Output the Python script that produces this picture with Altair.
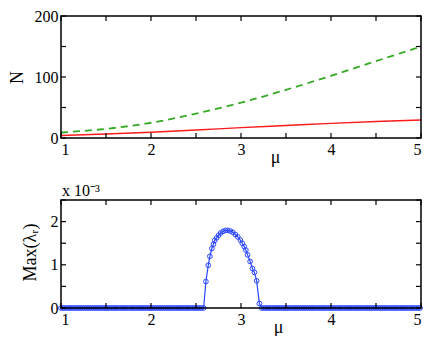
import altair as alt
import numpy as np
import pandas as pd

# ---- top panel data ----
mu_top = [1.0, 1.5, 2.0, 2.5, 3.0, 3.5, 4.0, 4.5, 5.0]
n_red = [4.0, 6.5, 9.5, 13.0, 17.0, 20.5, 24.0, 27.0, 29.5]
n_green = [9.0, 15.0, 25.0, 40.0, 58.0, 79.0, 102.0, 126.0, 150.0]

# ---- bottom panel data (units of 1e-3) ----
mu_peak = [2.585, 2.610, 2.636, 2.654, 2.676, 2.694, 2.708, 2.730, 2.752, 2.774,
           2.800, 2.828, 2.854, 2.883, 2.909, 2.938, 2.964, 2.993, 3.014, 3.036,
           3.054, 3.073, 3.101, 3.127, 3.149, 3.174, 3.204, 3.229]
lam_peak = [0.0, 0.613, 0.988, 1.197, 1.377, 1.475, 1.565, 1.624, 1.685, 1.736,
            1.775, 1.797, 1.797, 1.780, 1.752, 1.700, 1.646, 1.572, 1.498, 1.422,
            1.341, 1.229, 1.078, 0.914, 0.824, 0.629, 0.105, 0.0]
mu_zero_left = list(np.round(np.arange(1.0, 2.58, 0.02), 3))
mu_zero_right = list(np.round(np.arange(3.25, 5.001, 0.02), 3))

x_ticks = [1, 1.5, 2, 2.5, 3, 3.5, 4, 4.5, 5]
y_ticks_top = [0, 50, 100, 150, 200]
y_ticks_bot = [0, 0.5, 1, 1.5, 2, 2.5]
exp_label = ["x 10⁻³"]

FONT = "Liberation Serif"
W = 360
H1 = 122
H2 = 108
BLUE = "#2a46ff"
INK = "#000000"

red_df = pd.DataFrame({"mu": mu_top, "N": n_red})
green_df = pd.DataFrame({"mu": mu_top, "N": n_green})
mu_all = mu_zero_left + mu_peak + mu_zero_right
lam_all = [0.0] * len(mu_zero_left) + lam_peak + [0.0] * len(mu_zero_right)
bot_df = pd.DataFrame({"mu": mu_all, "lam": lam_all})
exp_df = pd.DataFrame({"t": exp_label})
xt_df = pd.DataFrame({"mu": x_ticks})
yt_top_df = pd.DataFrame({"N": y_ticks_top})
yt_bot_df = pd.DataFrame({"lam": y_ticks_bot})
one_df = pd.DataFrame({"k": [0]})

int_label = "datum.value % 1 == 0 ? format(datum.value, 'd') : ''"
hund_label = "datum.value % 100 == 0 ? format(datum.value, 'd') : ''"


def ax(values, label_expr, **kw):
    d = dict(values=values, domain=False, ticks=False, grid=False, labelFont=FONT,
             labelFontSize=16, labelColor=INK, labelPadding=3, labelExpr=label_expr,
             titleFont=FONT, titleColor=INK, titleFontWeight="normal", titleFontSize=18)
    d.update(kw)
    return alt.Axis(**d)


xs = alt.Scale(domain=[1, 5], nice=False, zero=False)
ys_top = alt.Scale(domain=[0, 200], nice=False)
ys_bot = alt.Scale(domain=[0, 2.5], nice=False)


def frame_layers(h, ys, yt_df, yfield):
    frame = alt.Chart(one_df).mark_rect(
        filled=False, stroke=INK, strokeWidth=1.5
    ).encode(x=alt.value(0), x2=alt.value(W), y=alt.value(0), y2=alt.value(h))
    xb = alt.Chart(xt_df).mark_rule(color=INK, strokeWidth=1.2).encode(
        x=alt.X("mu:Q", scale=xs), y=alt.value(h), y2=alt.value(h - 5))
    xt = alt.Chart(xt_df).mark_rule(color=INK, strokeWidth=1.2).encode(
        x=alt.X("mu:Q", scale=xs), y=alt.value(0), y2=alt.value(5))
    yl = alt.Chart(yt_df).mark_rule(color=INK, strokeWidth=1.2).encode(
        y=alt.Y(yfield + ":Q", scale=ys), x=alt.value(0), x2=alt.value(5))
    yr = alt.Chart(yt_df).mark_rule(color=INK, strokeWidth=1.2).encode(
        y=alt.Y(yfield + ":Q", scale=ys), x=alt.value(W), x2=alt.value(W - 5))
    return [frame, xb, xt, yl, yr]


green_line = alt.Chart(green_df).mark_line(
    interpolate="monotone", color="#33aa22", strokeWidth=1.8, strokeDash=[7, 5]
).encode(
    x=alt.X("mu:Q", scale=xs,
            axis=ax(x_ticks, int_label, title="μ", titleX=214, titleY=24,
                    titleBaseline="alphabetic")),
    y=alt.Y("N:Q", scale=ys_top,
            axis=ax(y_ticks_top, hund_label, title="N", titleX=-44, titleY=61,
                    titleAngle=-90, titleBaseline="middle")),
)

red_line = alt.Chart(red_df).mark_line(
    interpolate="monotone", color="#ff1a1a", strokeWidth=1.4
).encode(x=alt.X("mu:Q", scale=xs), y=alt.Y("N:Q", scale=ys_top))

top = alt.layer(green_line, red_line, *frame_layers(H1, ys_top, yt_top_df, "N")).properties(
    width=W, height=H1)

bot_line = alt.Chart(bot_df).mark_line(color=BLUE, strokeWidth=1.2).encode(
    x=alt.X("mu:Q", scale=xs,
            axis=ax(x_ticks, int_label, title="μ", titleX=217, titleY=24,
                    titleBaseline="alphabetic")),
    y=alt.Y("lam:Q", scale=ys_bot,
            axis=ax(y_ticks_bot, int_label, title="Max(λᵣ)", titleX=-31, titleY=52,
                    titleAngle=-90, titleBaseline="middle")),
)

bot_pts = alt.Chart(bot_df).mark_point(
    filled=False, color=BLUE, size=22, strokeWidth=1, opacity=1
).encode(x=alt.X("mu:Q", scale=xs), y=alt.Y("lam:Q", scale=ys_bot))

exp_text = alt.Chart(exp_df).mark_text(
    font=FONT, fontSize=16, color=INK, align="left", baseline="alphabetic"
).encode(text="t:N", x=alt.value(1), y=alt.value(-4))

bot = alt.layer(bot_line, bot_pts, *frame_layers(H2, ys_bot, yt_bot_df, "lam"), exp_text).properties(
    width=W, height=H2)

chart = alt.vconcat(top, bot, spacing=62, bounds="flush").properties(
    padding=0
).configure_view(strokeWidth=0)

chart.save("out.html", embed_options={"renderer": "svg", "actions": False})
